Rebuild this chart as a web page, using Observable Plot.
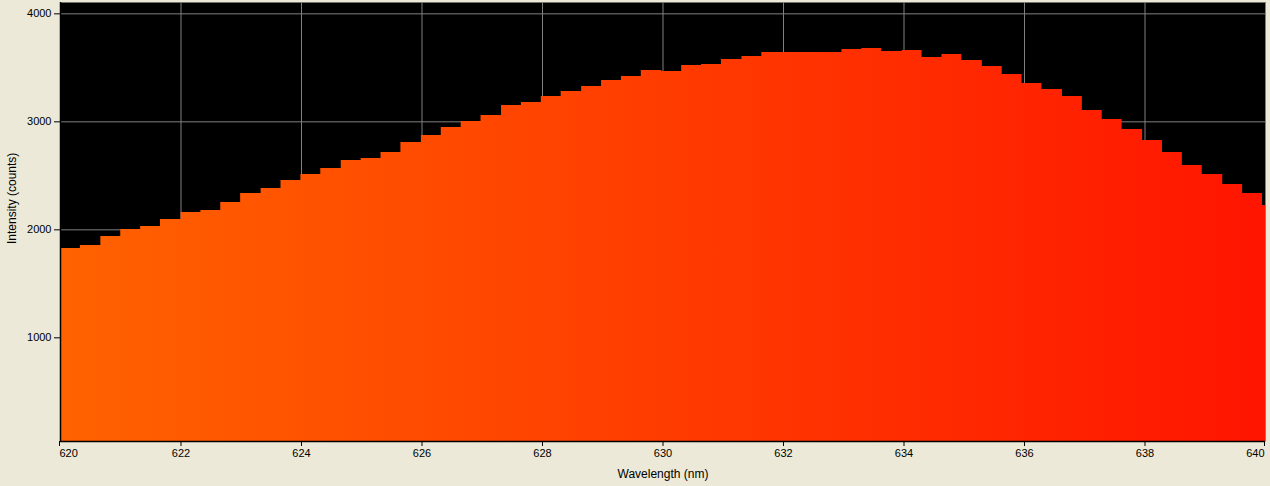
<!DOCTYPE html>
<html>
<head>
<meta charset="utf-8">
<script src="https://cdn.jsdelivr.net/npm/d3@7"></script>
<script src="https://cdn.jsdelivr.net/npm/@observablehq/plot@0.6"></script>
<style>
  html, body { margin: 0; padding: 0; background: #ECE9D8; }
  #chart svg { display: block; }
</style>
</head>
<body>
<div id="chart"></div>
<script>
const wavelengths = [620.00, 620.33, 620.67, 621.00, 621.33, 621.66, 622.00, 622.33, 622.66, 622.99,
  623.33, 623.66, 623.99, 624.32, 624.66, 624.99, 625.32, 625.65, 625.99, 626.32,
  626.65, 626.98, 627.32, 627.65, 627.98, 628.31, 628.65, 628.98, 629.31, 629.64,
  629.98, 630.31, 630.64, 630.97, 631.31, 631.64, 631.97, 632.30, 632.64, 632.97,
  633.30, 633.63, 633.97, 634.30, 634.63, 634.96, 635.30, 635.63, 635.96, 636.29,
  636.63, 636.96, 637.29, 637.62, 637.96, 638.29, 638.62, 638.95, 639.29, 639.62, 639.95];
const intensities = [1827, 1855, 1938, 2003, 2031, 2095, 2160, 2179, 2253, 2336,
  2382, 2457, 2512, 2568, 2642, 2660, 2716, 2808, 2873, 2947,
  3003, 3058, 3151, 3179, 3234, 3280, 3327, 3383, 3420, 3475,
  3466, 3521, 3531, 3577, 3605, 3642, 3642, 3642, 3642, 3670,
  3679, 3651, 3660, 3595, 3623, 3568, 3512, 3438, 3355, 3299,
  3234, 3105, 3021, 2929, 2827, 2716, 2596, 2512, 2420, 2336, 2225];
const xTicks = [620, 622, 624, 626, 628, 630, 632, 634, 636, 638, 640];
const yTicks = [1000, 2000, 3000, 4000];
const xLabel = "Wavelength (nm)";
const yLabel = "Intensity (counts)";

// step outline: each sample holds its value until the next sample
const n = wavelengths.length;
const steps = wavelengths.map((w, i) => ({ x: w, y: intensities[i] }));
steps.push({ x: wavelengths[n - 1] + (wavelengths[n - 1] - wavelengths[n - 2]), y: intensities[n - 1] });

const font = "'Liberation Sans', Arial, sans-serif";
const fmt = d3.format("d");

const chart = Plot.plot({
  width: 1270,
  height: 486,
  marginLeft: 60,
  marginRight: 5,
  marginTop: 2,
  marginBottom: 45,
  style: { background: "#ECE9D8", fontFamily: font, fontSize: "11px", color: "#000" },
  x: { domain: [620, 640] },
  y: { domain: [40, 4105] },
  marks: [
    Plot.frame({ fill: "#000", stroke: "none" }),
    Plot.gridX(xTicks, { stroke: "#808080", strokeOpacity: 1 }),
    Plot.gridY(yTicks, { stroke: "#808080", strokeOpacity: 1 }),
    Plot.areaY(steps, { x: "x", y1: 40, y2: "y", curve: "step-after", fill: "url(#specGrad)", clip: true }),
    Plot.axisX(xTicks.slice(1, -1), { tickSize: 5, tickPadding: 3, label: null, fontSize: 11, tickFormat: fmt }),
    Plot.axisX([xTicks[0]], { tickSize: 5, tickPadding: 3, label: null, fontSize: 11, tickFormat: fmt, textAnchor: "start", dx: -1 }),
    Plot.axisX([xTicks[xTicks.length - 1]], { tickSize: 5, tickPadding: 3, label: null, fontSize: 11, tickFormat: fmt, textAnchor: "end", dx: -1 }),
    Plot.axisY(yTicks, { tickSize: 6, tickPadding: 3, label: null, fontSize: 11, tickFormat: fmt }),
    Plot.ruleY([40], { stroke: "#000", strokeWidth: 1.5 }),
    Plot.ruleX([620], { stroke: "#000", strokeWidth: 1.5 }),
    Plot.text([xLabel], { frameAnchor: "bottom", dy: 36, fontSize: 12, fill: "#000" }),
    Plot.text([yLabel], { frameAnchor: "left", dx: -48, dy: 22, rotate: -90, fontSize: 12, fill: "#000" })
  ]
});

const ns = "http://www.w3.org/2000/svg";
const defs = document.createElementNS(ns, "defs");
const grad = document.createElementNS(ns, "linearGradient");
grad.setAttribute("id", "specGrad");
grad.setAttribute("gradientUnits", "userSpaceOnUse");
grad.setAttribute("x1", "60");
grad.setAttribute("x2", "1265");
grad.setAttribute("y1", "0");
grad.setAttribute("y2", "0");
[["0%", "#FF6200"], ["50%", "#FF3C00"], ["100%", "#FF1500"]].forEach(([o, c]) => {
  const s = document.createElementNS(ns, "stop");
  s.setAttribute("offset", o);
  s.setAttribute("stop-color", c);
  grad.appendChild(s);
});
defs.appendChild(grad);
chart.insertBefore(defs, chart.firstChild);

document.getElementById("chart").appendChild(chart);
</script>
</body>
</html>
